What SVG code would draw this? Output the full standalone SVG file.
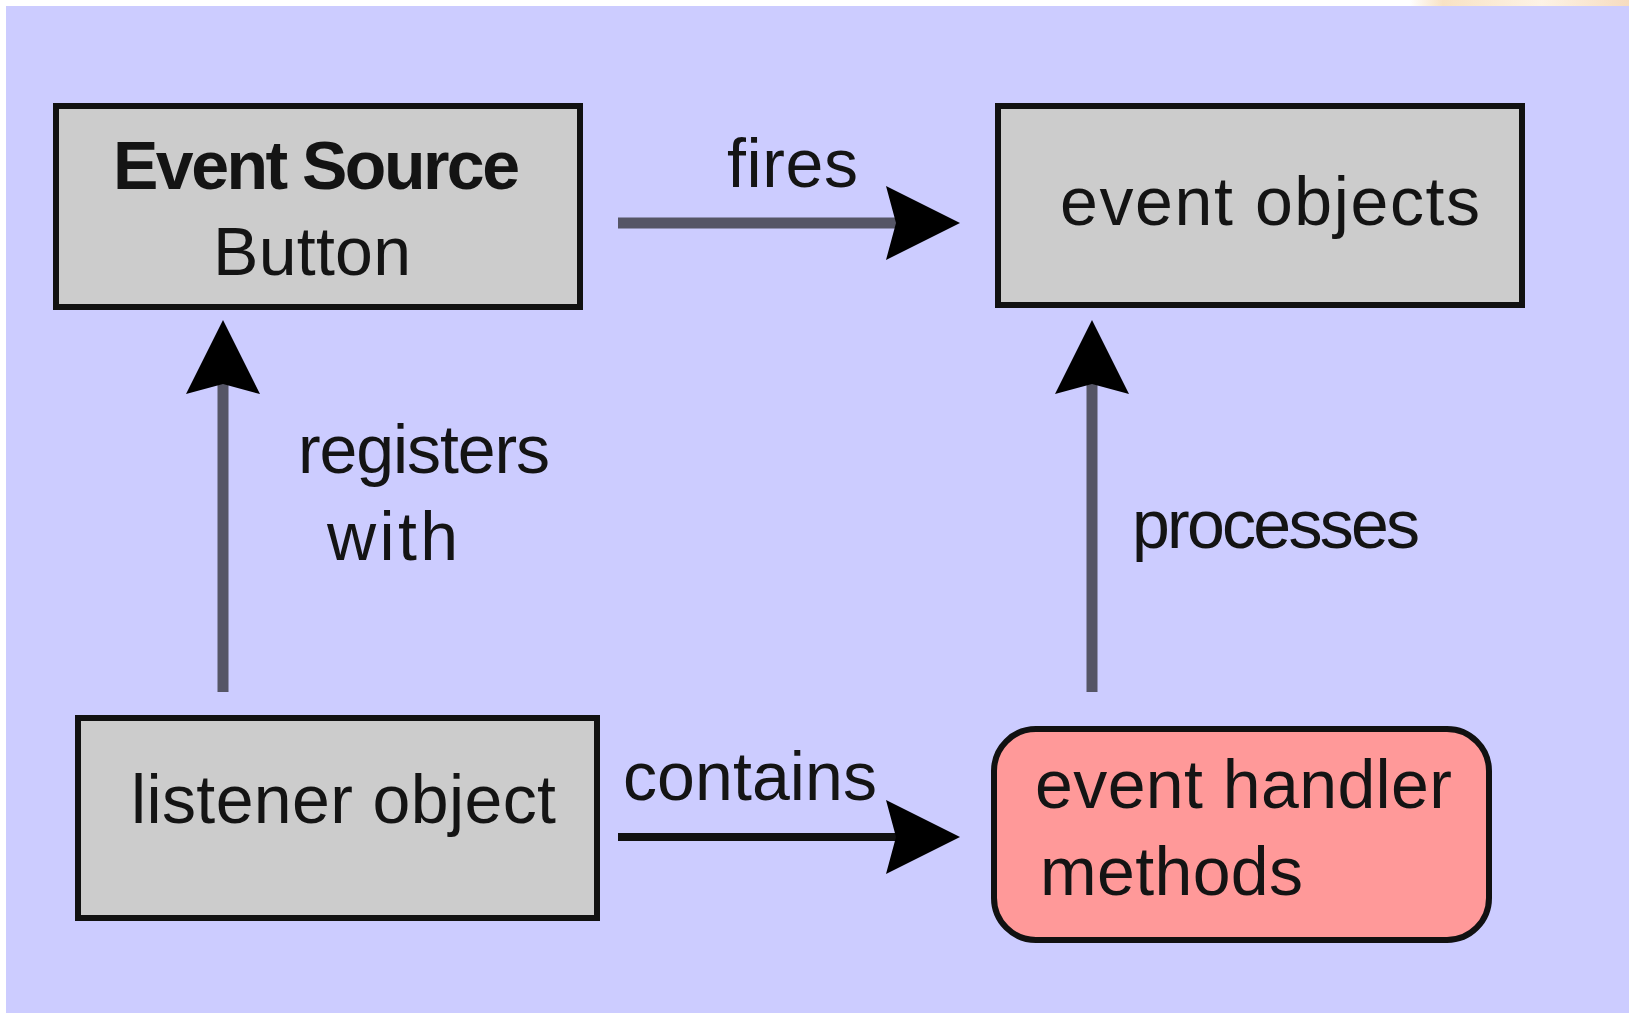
<svg xmlns="http://www.w3.org/2000/svg" width="1629" height="1013" viewBox="0 0 1629 1013">
<style>
.box{fill:#cccccc;stroke:#111111;stroke-width:6}
.hl{fill:#ff9999;stroke:#111111;stroke-width:6}
.t{font-family:"Liberation Sans",Arial,sans-serif;font-size:68px;fill:#141414}
.b{font-weight:bold}
.ln{stroke:#555566;stroke-width:11;fill:none}
.ln2{stroke:#111111;stroke-width:8;fill:none}
</style>
<defs>
<marker id="ah" markerUnits="userSpaceOnUse" markerWidth="80" markerHeight="80" viewBox="-14 -40 80 80" refX="0" refY="0" orient="auto">
<path d="M-10,-37 L64,0 L-10,37 L0,0 z" fill="#000000"/>
</marker>
<linearGradient id="peach" x1="0" y1="0" x2="1" y2="0">
<stop offset="0" stop-color="#ffffff"/>
<stop offset="0.15" stop-color="#f8e2c4"/>
<stop offset="0.6" stop-color="#fdf3e6"/>
<stop offset="1" stop-color="#f6dcc0"/>
</linearGradient>
</defs>
<rect x="0" y="0" width="1629" height="1013" fill="#ffffff"/>
<rect x="1410" y="0" width="219" height="6" fill="url(#peach)"/>
<rect x="6" y="6" width="1623" height="1007" fill="#ccccff"/>

<g id="connectors">
<line class="ln" x1="618" y1="223" x2="896" y2="223" marker-end="url(#ah)"/>
<line class="ln" x1="223" y1="692" x2="223" y2="384" marker-end="url(#ah)"/>
<line class="ln" x1="1092" y1="692" x2="1092" y2="384" marker-end="url(#ah)"/>
<line class="ln2" x1="618" y1="837" x2="896" y2="837" marker-end="url(#ah)"/>
<text class="t" x="727" y="187" textLength="131">fires</text>
<text class="t" x="298" y="473" textLength="252">registers</text>
<text class="t" x="327" y="560" textLength="131">with</text>
<text class="t" x="1132" y="548" textLength="288">processes</text>
<text class="t" x="623" y="800" textLength="254">contains</text>
</g>

<g id="event-source">
<rect class="box" x="56" y="106" width="524" height="201"/>
<text class="t b" x="113" y="189" textLength="407">Event Source</text>
<text class="t" x="213" y="275" textLength="198">Button</text>
</g>

<g id="event-objects">
<rect class="box" x="998" y="106" width="524" height="199"/>
<text class="t" x="1060" y="225" textLength="420">event objects</text>
</g>

<g id="listener-object">
<rect class="box" x="78" y="718" width="519" height="200"/>
<text class="t" x="131" y="823" textLength="425">listener object</text>
</g>

<g id="event-handler">
<rect class="hl" x="994" y="729" width="495" height="211" rx="42" ry="42"/>
<text class="t" x="1035" y="808" textLength="417">event handler</text>
<text class="t" x="1040" y="895" textLength="263">methods</text>
</g>
</svg>
